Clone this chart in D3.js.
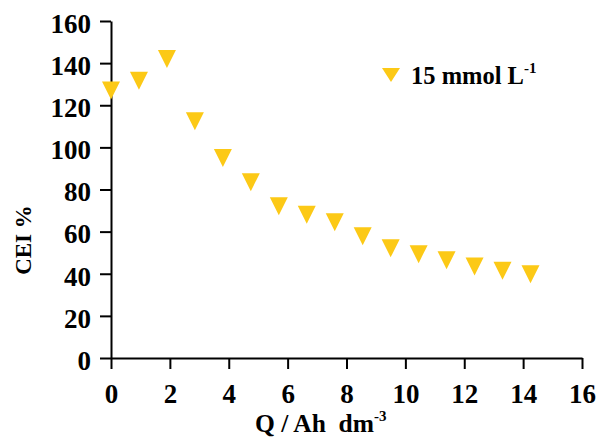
<!DOCTYPE html>
<html>
<head>
<meta charset="utf-8">
<script src="https://cdn.jsdelivr.net/npm/d3@7"></script>
<style>
  html, body { margin: 0; padding: 0; background: #fff; }
  text { font-family: "Liberation Serif", "Times New Roman", serif; font-weight: bold; fill: #000; }
</style>
</head>
<body>
<svg id="chart" width="597" height="439"></svg>
<script>
const qValues = [0, 0.95, 1.9, 2.85, 3.8, 4.75, 5.7, 6.65, 7.6, 8.55, 9.5, 10.45, 11.4, 12.35, 13.3, 14.25];
const ceiValues = [127, 131.6, 142, 112.4, 95, 83.5, 72.1, 68, 64.5, 57.8, 52.1, 49.3, 46.4, 43.4, 41.4, 39.8];
const xTicks = [0, 2, 4, 6, 8, 10, 12, 14, 16];
const yTicks = [0, 20, 40, 60, 80, 100, 120, 140, 160];
const seriesName = "15 mmol L";
const markerColor = "#FCC916";

const svg = d3.select("#chart");
const plotLeft = 111, plotRight = 582, plotTop = 21, plotBottom = 358;

const x = d3.scaleLinear().domain([0, 16]).range([plotLeft, plotRight]);
const y = d3.scaleLinear().domain([0, 160]).range([plotBottom, plotTop]);

const xAxis = svg.append("g").attr("transform", `translate(0,${plotBottom})`)
  .call(d3.axisBottom(x).tickValues(xTicks).tickSize(11).tickPadding(15).tickSizeOuter(0));
const yAxis = svg.append("g").attr("transform", `translate(${plotLeft},0)`)
  .call(d3.axisLeft(y).tickValues(yTicks).tickSize(11).tickPadding(9).tickSizeOuter(0));

[xAxis, yAxis].forEach(g => {
  g.select(".domain").attr("stroke", "#000").attr("stroke-width", 2);
  g.selectAll(".tick line").attr("stroke", "#000").attr("stroke-width", 2);
  g.selectAll(".tick text")
    .attr("font-family", "Liberation Serif, Times New Roman, serif")
    .attr("font-weight", "bold").attr("font-size", 27).attr("fill", "#000");
});
yAxis.selectAll(".tick text").attr("dy", "0.42em");
xAxis.selectAll(".tick text").attr("dy", "0.69em");

const tri = "M-9,-9L9,-9L0,9Z";
svg.append("g").selectAll("path").data(qValues).join("path")
  .attr("d", tri)
  .attr("transform", (d, i) => `translate(${x(d)},${y(ceiValues[i])})`)
  .attr("fill", markerColor);

// legend
svg.append("path").attr("d", "M-9,-7L9,-7L0,7Z").attr("fill", markerColor)
  .attr("transform", "translate(391,75)");
const lt = svg.append("text").attr("x", 411).attr("y", 84).attr("font-size", 24.5);
lt.append("tspan").text(seriesName);
lt.append("tspan").attr("font-size", 15).attr("dy", -11).text("-1");

// axis titles
const xt = svg.append("text").attr("x", 255).attr("y", 432).attr("font-size", 25.5);
xt.append("tspan").text("Q / Ah\u00a0\u00a0dm");
xt.append("tspan").attr("font-size", 15).attr("dy", -11).text("-3");

svg.append("text").attr("transform", "translate(31,240) rotate(-90)")
  .attr("text-anchor", "middle").attr("font-size", 23).text("CEI %");
</script>
</body>
</html>
